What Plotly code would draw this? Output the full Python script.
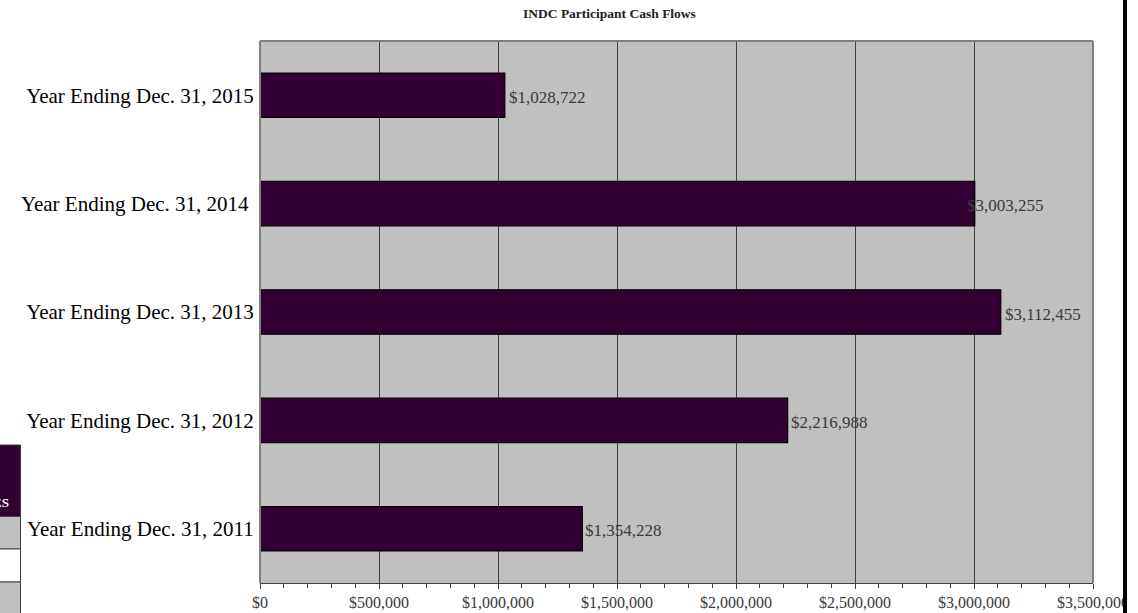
import plotly.graph_objects as go

# Participant cash flow by fiscal year (bottom to top on the chart)
years = [
    "Year Ending Dec. 31, 2011",
    "Year Ending Dec. 31, 2012",
    "Year Ending Dec. 31, 2013",
    "Year Ending Dec. 31, 2014\u00a0",
    "Year Ending Dec. 31, 2015",
]
cash_flows = [1354228, 2216988, 3112455, 3003255, 1028722]
label_nudge = [1, 1, 2, -10, 2]  # horizontal offset of each value label, px

tick_values = [0, 500000, 1000000, 1500000, 2000000, 2500000, 3000000, 3500000]
tick_text = ["$0", "$500,000", "$1,000,000", "$1,500,000", "$2,000,000",
             "$2,500,000", "$3,000,000", "$3,500,000"]

W, H = 1138, 613
L, R, T, B = 260, 1093, 41, 583  # plot area in pixels
SERIF = "Liberation Serif, Times New Roman, serif"


def px_x(p):
    return (p - L) / (R - L)


def px_y(p):
    return (B - p) / (B - T)


fig = go.Figure(
    go.Bar(
        x=cash_flows,
        y=years,
        orientation="h",
        marker=dict(color="#330033", line=dict(color="#000000", width=1.2)),
        width=0.41,
        hoverinfo="skip",
    )
)

annotations = []
for yr, v, dx in zip(years, cash_flows, label_nudge):
    annotations.append(dict(
        x=v, y=yr, xref="x", yref="y", text=f"${v:,}",
        showarrow=False, xanchor="left", yanchor="middle",
        xshift=dx, yshift=-2,
        font=dict(family=SERIF, size=17, color="#3a3a3a"),
    ))

# chart title
annotations.append(dict(
    x=px_x(609), y=px_y(14), xref="paper", yref="paper",
    text="<b>INDC Participant Cash Flows</b>", showarrow=False,
    xanchor="center", yanchor="middle",
    font=dict(family=SERIF, size=13.5, color="#222222"),
))

# heading cell of the neighbouring table
annotations.append(dict(
    x=px_x(11), y=px_y(502), xref="paper", yref="paper",
    text="<b>ES</b>", showarrow=False, xanchor="right", yanchor="middle",
    font=dict(family=SERIF, size=13, color="#ffffff"),
))

shapes = [
    # plot frame (top, left, right)
    dict(type="line", xref="paper", yref="paper", x0=0, x1=1, y0=1, y1=1,
         line=dict(color="#808080", width=2), layer="above"),
    dict(type="line", xref="paper", yref="paper", x0=0, x1=0, y0=0, y1=1,
         line=dict(color="#808080", width=2), layer="above"),
    dict(type="line", xref="paper", yref="paper", x0=1, x1=1, y0=0, y1=1,
         line=dict(color="#808080", width=2), layer="above"),
    # neighbouring table cells at the left edge
    dict(type="rect", xref="paper", yref="paper",
         x0=px_x(-5), x1=px_x(20.5), y0=px_y(516.5), y1=px_y(445),
         fillcolor="#330033", line=dict(color="#404040", width=1), layer="above"),
    dict(type="rect", xref="paper", yref="paper",
         x0=px_x(-5), x1=px_x(20.5), y0=px_y(549), y1=px_y(516.5),
         fillcolor="#c0c0c0", line=dict(color="#404040", width=1), layer="above"),
    dict(type="rect", xref="paper", yref="paper",
         x0=px_x(-5), x1=px_x(20.5), y0=px_y(582), y1=px_y(549),
         fillcolor="#ffffff", line=dict(color="#404040", width=1), layer="above"),
    dict(type="rect", xref="paper", yref="paper",
         x0=px_x(-5), x1=px_x(20.5), y0=px_y(620), y1=px_y(582),
         fillcolor="#c0c0c0", line=dict(color="#404040", width=1), layer="above"),
    # page edge on the right
    dict(type="rect", xref="paper", yref="paper",
         x0=px_x(1123), x1=px_x(1145), y0=px_y(620), y1=px_y(-5),
         fillcolor="#ffffff", line=dict(width=0), layer="above"),
    dict(type="line", xref="paper", yref="paper",
         x0=px_x(1125), x1=px_x(1125), y0=px_y(620), y1=px_y(-5),
         line=dict(color="#000000", width=4), layer="above"),
]

fig.update_layout(
    template="none",
    width=W, height=H,
    margin=dict(l=L, r=W - R, t=T, b=H - B, pad=0),
    paper_bgcolor="#ffffff",
    plot_bgcolor="#c0c0c0",
    showlegend=False,
    annotations=annotations,
    shapes=shapes,
    bargap=0.59,
)

fig.update_xaxes(
    automargin=False,
    range=[0, 3500000],
    tickvals=tick_values, ticktext=tick_text,
    showgrid=True, gridcolor="#404040", gridwidth=1.3,
    zeroline=False,
    showline=True, linecolor="#404040", linewidth=1.3,
    ticks="outside", ticklen=5, tickcolor="#404040", tickwidth=1,
    minor=dict(dtick=100000, ticks="outside", ticklen=4,
               tickcolor="#404040", showgrid=False),
    tickfont=dict(family=SERIF, size=16, color="#3a3a3a"),
    ticklabelstandoff=0,
    fixedrange=True,
)

fig.update_yaxes(
    automargin=False,
    categoryorder="array", categoryarray=years,
    showgrid=False, zeroline=False, showline=False,
    ticks="outside", ticklen=1, tickcolor="rgba(0,0,0,0)",
    tickfont=dict(family=SERIF, size=21, color="#000000"),
    fixedrange=True,
)

fig.write_html("out.html", config={"displayModeBar": False})
